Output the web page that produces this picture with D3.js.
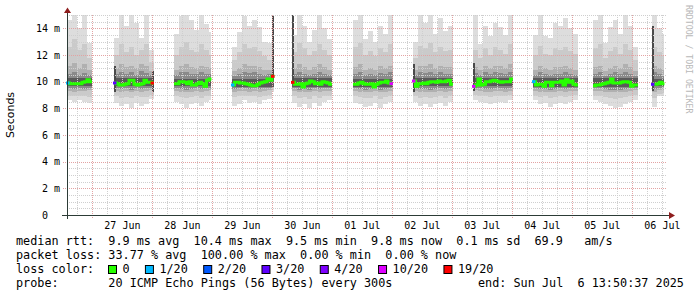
<!DOCTYPE html>
<html>
<head>
<meta charset="utf-8">
<script src="https://cdn.jsdelivr.net/npm/d3@7"></script>
<style>
  body { margin: 0; background: #fff; }
  svg text { font-family: "DejaVu Sans Mono", monospace; white-space: pre; }
</style>
</head>
<body>
<svg width="697" height="297"></svg>
<script>
// time window of the graph (10 days)
var endTime = "2025-07-06T13:50:37";

// each block of measurements: start time, hourly medians (ms)
var blockStart = ["2025-06-26T13:50", "2025-06-27T08:38", "2025-06-28T08:38", "2025-06-29T07:50",
  "2025-06-30T07:50", "2025-07-01T08:14", "2025-07-02T08:14", "2025-07-03T08:14",
  "2025-07-04T08:14", "2025-07-05T08:14", "2025-07-06T07:50"];

var median = [
  [9.9, 9.85, 9.85, 9.85, 9.85, 9.85, 9.95, 10.0, 10.15, 10.0],
  [9.9, 9.85, 9.75, 9.75, 9.8, 9.85, 10.1, 10.1, 9.8, 9.75, 9.8, 9.85, 10.1, 9.95, 9.95, 9.9],
  [9.85, 9.85, 10.0, 10.0, 9.95, 9.85, 10.0, 9.75, 9.75, 9.85, 9.95, 9.85, 9.65, 10.1, 10.2],
  [9.75, 9.95, 9.95, 9.9, 9.9, 9.85, 9.8, 9.75, 9.7, 9.7, 9.8, 9.9, 9.95, 10.0, 10.2, 10.1, 10.4],
  [9.95, 9.8, 9.8, 9.85, 9.6, 9.85, 9.9, 10.05, 10.0, 9.85, 9.9, 9.8, 10.0, 9.95, 9.9, 9.8],
  [9.8, 9.8, 9.9, 9.95, 9.85, 9.8, 9.8, 9.85, 9.6, 9.8, 9.9, 9.95, 9.95, 10.05, 9.9, 9.85],
  [10.05, 9.65, 9.85, 9.85, 9.9, 9.85, 9.95, 10.0, 10.0, 9.95, 10.05, 10.0, 10.0, 10.05, 10.1, 9.8],
  [9.65, 9.75, 10.2, 9.75, 9.8, 10.0, 10.0, 10.05, 10.1, 10.05, 10.0, 9.95, 10.0, 10.0, 10.0, 10.2],
  [10.0, 9.75, 9.8, 9.8, 9.65, 9.95, 9.95, 9.7, 9.95, 9.95, 9.95, 10.05, 9.75, 10.15, 9.95, 10.05, 9.8, 9.75],
  [9.7, 9.75, 9.75, 9.8, 9.85, 9.9, 9.95, 10.2, 9.9, 9.9, 9.9, 9.95, 10.0, 10.0, 9.95, 9.65, 9.75, 9.75],
  [9.8, 9.8, 9.85, 9.95, 9.85]
];

// [block, hour index, lost pings of 20]
var lossMarks = [[0, 0, 1], [1, 0, 3], [1, 15, 19], [3, 0, 1], [3, 16, 19], [4, 0, 19],
  [5, 15, 10], [6, 0, 10], [7, 0, 10], [8, 0, 1], [10, 0, 3]];

// smoke, 2-hour columns (ms)
var smokeMax = [
  [14.6, 15.0, 14.0, 15.0, 12.9],
  [13.3, 15.0, 14.2, 15.0, 14.4, 13.3, 15.0, 12.4],
  [13.6, 14.9, 15.0, 14.6, 13.9, 15.0, 14.3, 13.7],
  [12.6, 13.7, 14.9, 14.2, 14.6, 14.1, 13.0, 12.9, 11.0],
  [13.5, 15.0, 14.2, 13.0, 13.9, 15.0, 14.0, 13.2],
  [14.6, 15.0, 13.2, 13.8, 13.0, 14.2, 13.6, 15.0],
  [13.0, 15.0, 14.4, 15.0, 13.6, 14.8, 13.8, 14.2],
  [15.0, 12.8, 14.2, 13.4, 14.4, 14.1, 13.5, 15.0],
  [13.5, 15.0, 13.4, 13.3, 14.4, 14.2, 14.8, 14.0, 13.6],
  [14.6, 15.0, 12.9, 14.1, 14.6, 13.6, 15.0, 14.2, 12.6],
  [15.0, 14.0, 13.6]
];
var smokeP90 = [
  [12.6, 13.2, 12.4, 12.8, 11.8],
  [12.0, 12.8, 12.2, 12.6, 12.0, 12.4, 12.8, 11.5],
  [12.0, 12.6, 13.0, 12.4, 12.2, 12.8, 12.4, 12.0],
  [11.6, 12.2, 12.8, 12.5, 12.6, 12.3, 11.9, 11.6, 10.8],
  [12.2, 12.9, 12.5, 12.0, 12.3, 12.8, 12.4, 12.0],
  [12.6, 12.9, 12.0, 12.3, 11.9, 12.5, 12.2, 12.8],
  [11.8, 12.7, 12.5, 12.9, 12.2, 12.6, 12.3, 12.4],
  [12.4, 11.8, 12.5, 12.0, 12.6, 12.4, 12.1, 12.8],
  [12.0, 12.7, 12.1, 12.0, 12.5, 12.4, 12.6, 12.3, 12.1],
  [12.5, 12.8, 11.8, 12.3, 12.6, 12.1, 12.8, 12.4, 11.6],
  [12.6, 12.2, 12.0]
];
var smokeP75 = [
  [11.2, 11.4, 11.0, 11.3, 10.9],
  [11.0, 11.3, 11.1, 11.2, 11.0, 11.3, 11.2, 10.8],
  [10.9, 11.2, 11.3, 11.1, 11.0, 11.2, 11.1, 11.0],
  [10.8, 11.0, 11.3, 11.2, 11.2, 11.1, 10.9, 10.9, 10.6],
  [11.0, 11.3, 11.1, 10.9, 11.1, 11.3, 11.1, 10.9],
  [11.1, 11.3, 10.9, 11.0, 10.9, 11.2, 11.0, 11.2],
  [10.9, 11.2, 11.2, 11.3, 11.0, 11.2, 11.1, 11.1],
  [11.1, 10.9, 11.2, 11.0, 11.2, 11.2, 11.0, 11.3],
  [10.9, 11.2, 11.0, 10.9, 11.1, 11.1, 11.2, 11.0, 10.9],
  [11.1, 11.2, 10.8, 11.0, 11.2, 11.0, 11.3, 11.1, 10.8],
  [11.2, 11.0, 10.9]
];
var smokeP65 = [
  [10.6, 10.7, 10.5, 10.65, 10.5],
  [10.6, 10.75, 10.55, 10.7, 10.5, 10.8, 10.65, 10.5],
  [10.5, 10.7, 10.75, 10.6, 10.55, 10.7, 10.6, 10.55],
  [10.45, 10.55, 10.7, 10.65, 10.7, 10.6, 10.5, 10.55, 10.5],
  [10.55, 10.75, 10.6, 10.5, 10.6, 10.75, 10.6, 10.5],
  [10.6, 10.7, 10.5, 10.55, 10.5, 10.65, 10.55, 10.7],
  [10.5, 10.7, 10.65, 10.75, 10.55, 10.7, 10.6, 10.6],
  [10.65, 10.5, 10.7, 10.55, 10.7, 10.65, 10.55, 10.75],
  [10.5, 10.7, 10.55, 10.5, 10.6, 10.6, 10.7, 10.55, 10.5],
  [10.6, 10.7, 10.45, 10.55, 10.7, 10.55, 10.75, 10.6, 10.45],
  [10.7, 10.55, 10.5]
];
var smokeP35 = [
  [9.5, 9.45, 9.5, 9.45, 9.5],
  [9.5, 9.45, 9.5, 9.4, 9.5, 9.45, 9.5, 9.55],
  [9.5, 9.45, 9.4, 9.45, 9.5, 9.45, 9.5, 9.5],
  [9.45, 9.5, 9.5, 9.45, 9.5, 9.45, 9.5, 9.55, 9.8],
  [9.5, 9.4, 9.45, 9.4, 9.5, 9.45, 9.5, 9.5],
  [9.5, 9.45, 9.4, 9.45, 9.5, 9.4, 9.45, 9.5],
  [9.5, 9.45, 9.45, 9.4, 9.45, 9.5, 9.45, 9.5],
  [9.55, 9.5, 9.45, 9.45, 9.5, 9.5, 9.45, 9.5],
  [9.5, 9.45, 9.45, 9.4, 9.45, 9.5, 9.45, 9.5, 9.5],
  [9.5, 9.5, 9.45, 9.4, 9.4, 9.4, 9.45, 9.5, 9.55],
  [9.45, 9.55, 9.6]
];
var smokeP25 = [
  [9.30, 9.25, 9.30, 9.30, 9.35],
  [9.30, 9.25, 9.30, 9.20, 9.30, 9.25, 9.30, 9.35],
  [9.30, 9.25, 9.20, 9.25, 9.30, 9.25, 9.30, 9.35],
  [9.25, 9.30, 9.30, 9.25, 9.30, 9.25, 9.30, 9.35, 9.60],
  [9.30, 9.20, 9.25, 9.20, 9.30, 9.25, 9.30, 9.30],
  [9.30, 9.25, 9.20, 9.25, 9.30, 9.20, 9.25, 9.30],
  [9.30, 9.25, 9.25, 9.20, 9.25, 9.30, 9.25, 9.30],
  [9.35, 9.30, 9.25, 9.25, 9.30, 9.30, 9.25, 9.30],
  [9.30, 9.25, 9.25, 9.20, 9.25, 9.30, 9.25, 9.30, 9.30],
  [9.30, 9.30, 9.25, 9.20, 9.20, 9.20, 9.25, 9.30, 9.35],
  [9.25, 9.35, 9.40]
];
var smokeP10 = [
  [8.95, 8.90, 8.95, 8.90, 8.85],
  [8.90, 8.80, 8.85, 8.75, 8.90, 8.85, 8.85, 9.00],
  [8.90, 8.85, 8.75, 8.85, 8.90, 8.80, 8.90, 8.95],
  [8.85, 8.90, 8.95, 8.90, 8.90, 8.85, 8.95, 9.00, 9.40],
  [8.90, 8.75, 8.85, 8.70, 8.90, 8.80, 8.90, 8.95],
  [8.90, 8.85, 8.75, 8.80, 8.90, 8.70, 8.85, 8.95],
  [8.95, 8.80, 8.85, 8.75, 8.85, 8.90, 8.80, 8.95],
  [9.00, 8.95, 8.90, 8.85, 8.90, 8.95, 8.90, 9.00],
  [8.95, 8.85, 8.90, 8.75, 8.85, 8.90, 8.85, 8.95, 9.00],
  [8.95, 8.90, 8.85, 8.80, 8.70, 8.75, 8.85, 8.95, 9.00],
  [8.80, 9.10, 9.15]
];
var smokeMin = [
  [8.6, 8.5, 8.6, 8.5, 8.4],
  [8.4, 8.2, 8.3, 8.05, 8.4, 8.2, 8.3, 8.7],
  [8.5, 8.3, 8.0, 8.3, 8.4, 8.2, 8.5, 8.6],
  [8.2, 8.3, 8.6, 8.4, 8.5, 8.3, 8.6, 8.7, 9.2],
  [8.4, 8.1, 8.3, 8.0, 8.4, 8.2, 8.5, 8.6],
  [8.4, 8.3, 8.1, 8.2, 8.4, 8.0, 8.3, 8.5],
  [8.5, 8.2, 8.3, 8.1, 8.3, 8.4, 8.2, 8.5],
  [8.6, 8.5, 8.4, 8.3, 8.4, 8.5, 8.4, 8.6],
  [8.6, 8.3, 8.4, 8.1, 8.3, 8.4, 8.3, 8.5, 8.6],
  [8.6, 8.5, 8.3, 8.2, 8.0, 8.1, 8.3, 8.5, 8.6],
  [8.1, 8.9, 9.0]
];
// innermost smoke per block (ms)
var innerHi = [10.25, 10.25, 10.2, 10.2, 10.25, 10.2, 10.3, 10.3, 10.25, 10.25, 10.2];
var innerLo = [9.65, 9.65, 9.65, 9.6, 9.6, 9.6, 9.65, 9.65, 9.6, 9.6, 9.65];

// single high-loss samples: [time, low ms, high ms]
var spikes = [["2025-06-27T08:38", 9.2, 11.2], ["2025-06-27T23:50", 9.2, 10.8],
  ["2025-06-29T23:50", 10.1, 15.0], ["2025-06-30T07:50", 10.0, 15.0],
  ["2025-07-02T08:14", 9.2, 11.3], ["2025-07-03T08:14", 9.3, 11.4],
  ["2025-07-06T07:50", 9.3, 14.2]];

var yTicks = [0, 2, 4, 6, 8, 10, 12, 14];
var yTickLabels = ["0  ", "2 m", "4 m", "6 m", "8 m", "10 m", "12 m", "14 m"];

var lossLevels = [0, 1, 2, 3, 4, 10, 19];
var lossLabels = ["0", "1/20", "2/20", "3/20", "4/20", "10/20", "19/20"];
var lossColors = ["#26ff00", "#00b8ff", "#0059ff", "#5e00ff", "#7e00ff", "#dd00ff", "#ff0000"];

var legendLines = [
  "median rtt:  9.9 ms avg  10.4 ms max  9.5 ms min  9.8 ms now  0.1 ms sd  69.9   am/s",
  "packet loss: 33.77 % avg  100.00 % max  0.00 % min  0.00 % now",
  "loss color:",
  "probe:       20 ICMP Echo Pings (56 Bytes) every 300s"
];
var endLabel = "end: Sun Jul  6 13:50:37 2025";

// ---------------------------------------------------------------
var svg = d3.select("svg");
var parse = d3.timeParse("%Y-%m-%dT%H:%M");
var HOUR = 3600e3;
var tEnd = d3.timeParse("%Y-%m-%dT%H:%M:%S")(endTime);
var tStart = new Date(+tEnd - 10 * 24 * HOUR);

var x = d3.scaleTime().domain([tStart, tEnd]).range([67, 667]);
var y = d3.scaleLinear().domain([0, 15]).range([215, 15]);

var lossColor = d3.scaleOrdinal().domain(lossLevels).range(lossColors);

// smoke
var smoke = svg.append("g").attr("shape-rendering", "crispEdges");
var bands = [
  { lo: smokeMin, hi: smokeMax, color: "#dddddd" },
  { lo: smokeP10, hi: smokeP90, color: "#cacaca" },
  { lo: smokeP25, hi: smokeP75, color: "#b0b0b0" },
  { lo: smokeP35, hi: smokeP65, color: "#8a8a8a" }
];

blockStart.forEach(function(s, b) {
  var t0 = +parse(s);
  var tb = t0 + median[b].length * HOUR;
  var cols = smokeMax[b].map(function(v, i) {
    return { a: t0 + i * 2 * HOUR, e: Math.min(t0 + (i + 1) * 2 * HOUR, tb), i: i };
  });
  bands.forEach(function(band) {
    smoke.selectAll(null)
      .data(cols)
      .enter().append("rect")
      .attr("x", function(d) { return Math.round(x(d.a)); })
      .attr("width", function(d) { return Math.round(x(d.e)) - Math.round(x(d.a)); })
      .attr("y", function(d) { return Math.round(y(band.hi[b][d.i])); })
      .attr("height", function(d) { return Math.round(y(band.lo[b][d.i])) - Math.round(y(band.hi[b][d.i])); })
      .attr("fill", band.color);
  });
  var xa = Math.round(x(t0)), xe = Math.round(x(tb));
  smoke.append("rect")
    .attr("x", xa).attr("width", xe - xa)
    .attr("y", Math.round(y(innerHi[b])))
    .attr("height", Math.round(y(innerLo[b])) - Math.round(y(innerHi[b])))
    .attr("fill", "#5a5a5a");
});

smoke.selectAll(".spike")
  .data(spikes)
  .enter().append("rect")
  .attr("class", "spike")
  .attr("x", function(d) { return Math.round(x(parse(d[0]))); })
  .attr("width", 2)
  .attr("y", function(d) { return Math.round(y(d[2])); })
  .attr("height", function(d) { return Math.round(y(d[1])) - Math.round(y(d[2])); })
  .attr("fill", "#4a4a4a");

// grid
var grid = svg.append("g").attr("shape-rendering", "crispEdges").attr("stroke-dasharray", "1,1");
var minorY = d3.range(0.5, 15.01, 0.5).filter(function(v) { return v % 2 !== 0; });
grid.selectAll(".gy")
  .data(minorY)
  .enter().append("line")
  .attr("x1", 67).attr("x2", 667)
  .attr("y1", function(d) { return Math.round(y(d)) + 0.5; })
  .attr("y2", function(d) { return Math.round(y(d)) + 0.5; })
  .attr("stroke", "#cfcfcf");
var sixHours = d3.timeHour.every(6).range(tStart, tEnd).filter(function(d) { return d.getHours() !== 0; });
grid.selectAll(".gx")
  .data(sixHours)
  .enter().append("line")
  .attr("x1", function(d) { return Math.round(x(d)) + 0.5; })
  .attr("x2", function(d) { return Math.round(x(d)) + 0.5; })
  .attr("y1", 15).attr("y2", 215)
  .attr("stroke", "#cfcfcf");
grid.selectAll(".my")
  .data(yTicks.slice(1))
  .enter().append("line")
  .attr("x1", 63).attr("x2", 667)
  .attr("y1", function(d) { return Math.round(y(d)) + 0.5; })
  .attr("y2", function(d) { return Math.round(y(d)) + 0.5; })
  .attr("stroke", "#e3a3a3");
var days = d3.timeDay.range(tStart, tEnd);
grid.selectAll(".mx")
  .data(days)
  .enter().append("line")
  .attr("x1", function(d) { return Math.round(x(d)) + 0.5; })
  .attr("x2", function(d) { return Math.round(x(d)) + 0.5; })
  .attr("y1", 15).attr("y2", 219)
  .attr("stroke", "#e3a3a3");

// median line, coloured by loss
var line = d3.line()
  .x(function(d) { return x(d[0]); })
  .y(function(d) { return y(d[1]); })
  .curve(d3.curveStepAfter);

blockStart.forEach(function(s, b) {
  var t0 = +parse(s);
  var pts = median[b].map(function(v, i) { return [t0 + i * HOUR, v]; });
  pts.push([t0 + median[b].length * HOUR, median[b][median[b].length - 1]]);
  svg.append("path")
    .attr("d", line(pts))
    .attr("fill", "none")
    .attr("stroke", lossColor(0))
    .attr("stroke-width", 3);
});

svg.selectAll(".loss")
  .data(lossMarks)
  .enter().append("line")
  .attr("x1", function(d) { return x(+parse(blockStart[d[0]]) + d[1] * HOUR) - 1; })
  .attr("x2", function(d) { return x(+parse(blockStart[d[0]]) + (d[1] + 1) * HOUR); })
  .attr("y1", function(d) { return y(median[d[0]][d[1]]); })
  .attr("y2", function(d) { return y(median[d[0]][d[1]]); })
  .attr("stroke", function(d) { return lossColor(d[2]); })
  .attr("stroke-width", 3);

// axes
var axis = svg.append("g").attr("shape-rendering", "crispEdges");
axis.append("line").attr("x1", 62).attr("x2", 670).attr("y1", 215.5).attr("y2", 215.5).attr("stroke", "#2c3b36");
axis.append("line").attr("x1", 67.5).attr("x2", 67.5).attr("y1", 219).attr("y2", 12).attr("stroke", "#2c3b36");
svg.append("path").attr("d", "M64,13L67.5,7.5L71,13Z").attr("fill", "#8e1d1d");
svg.append("path").attr("d", "M669,212L675,215.5L669,219Z").attr("fill", "#8e1d1d");

svg.selectAll(".ylab")
  .data(yTicks)
  .enter().append("text")
  .attr("x", 60)
  .attr("y", function(d) { return y(d) + 3.5; })
  .attr("text-anchor", "end")
  .attr("font-size", "10px")
  .attr("fill", "#000")
  .text(function(d, i) { return yTickLabels[i]; });

// day labels centred on noon
var noons = d3.timeDay.range(d3.timeDay.floor(tStart), tEnd)
  .map(function(d) { return d3.timeHour.offset(d, 12); })
  .filter(function(d) { return d > tStart && d <= tEnd; });
svg.selectAll(".xlab")
  .data(noons)
  .enter().append("text")
  .attr("x", function(d) { return x(d); })
  .attr("y", 229)
  .attr("text-anchor", "middle")
  .attr("font-size", "10px")
  .attr("fill", "#000")
  .text(d3.timeFormat("%d %b"));

svg.append("text")
  .attr("transform", "translate(14,115) rotate(-90)")
  .attr("text-anchor", "middle")
  .style("font-family", "'DejaVu Sans', sans-serif")
  .attr("font-size", "11px")
  .attr("fill", "#000")
  .text("Seconds");

svg.append("text")
  .attr("transform", "translate(686,5) rotate(90)")
  .attr("font-size", "8.2px")
  .attr("fill", "#b8b8b8")
  .text("RRDTOOL / TOBI OETIKER");

// legend
var charW = 7.12;
svg.selectAll(".leg")
  .data(legendLines)
  .enter().append("text")
  .attr("x", 16)
  .attr("y", function(d, i) { return 245 + i * 14; })
  .attr("font-size", "11.8px")
  .attr("fill", "#000")
  .text(function(d) { return d; });

svg.append("text")
  .attr("x", 478).attr("y", 287)
  .attr("font-size", "11.8px")
  .attr("fill", "#000")
  .text(endLabel);

var cx = 108;
lossLabels.forEach(function(lab, i) {
  svg.append("rect")
    .attr("x", cx + 0.5).attr("y", 265.5)
    .attr("width", 8).attr("height", 8)
    .attr("fill", lossColors[i])
    .attr("stroke", "#000");
  svg.append("text")
    .attr("x", cx + 14.5).attr("y", 273)
    .attr("font-size", "11.8px")
    .attr("fill", "#000")
    .text(lab);
  cx = cx + 14.5 + lab.length * charW + 15.3;
});
</script>
</body>
</html>
